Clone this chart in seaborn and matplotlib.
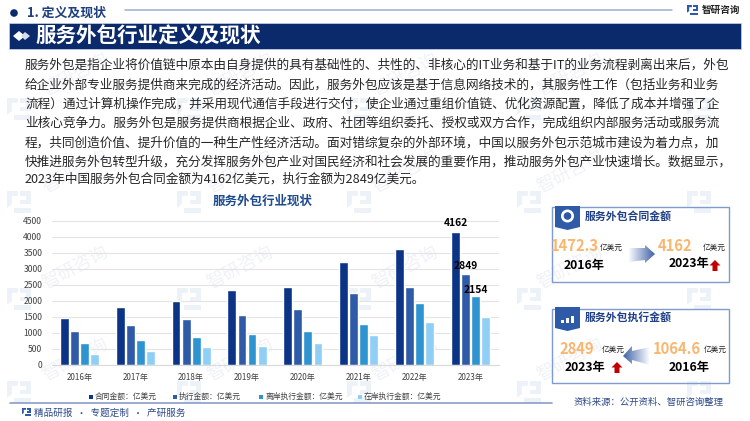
import numpy as np
import pandas as pd
import seaborn as sns
import matplotlib
matplotlib.use("Agg")
import matplotlib.pyplot as plt
from matplotlib.patches import Polygon, Rectangle, Circle

years = ["2016年", "2017年", "2018年", "2019年", "2020年", "2021年", "2022年", "2023年"]
contract = [1458, 1800, 1990, 2354, 2448, 3219, 3615, 4162]
executed = [1052, 1260, 1437, 1562, 1750, 2240, 2448, 2849]
offshore = [687, 781, 875, 968, 1052, 1292, 1948, 2154]
onshore = [354, 437, 562, 594, 687, 937, 1333, 1510]
series_names = ["合同金额：亿美元", "执行金额：亿美元", "离岸执行金额：亿美元", "在岸执行金额：亿美元"]
series_colors = ["#0B3487", "#2F5AA8", "#2E93D1", "#90CFF5"]
y_ticks = [0, 500, 1000, 1500, 2000, 2500, 3000, 3500, 4000, 4500]
body_lines = [
    "服务外包是指企业将价值链中原本由自身提供的具有基础性的、共性的、非核心的IT业务和基于IT的业务流程剥离出来后，外包",
    "给企业外部专业服务提供商来完成的经济活动。因此，服务外包应该是基于信息网络技术的，其服务性工作（包括业务和业务",
    "流程）通过计算机操作完成，并采用现代通信手段进行交付，使企业通过重组价值链、优化资源配置，降低了成本并增强了企",
    "业核心竞争力。服务外包是服务提供商根据企业、政府、社团等组织委托、授权或双方合作，完成组织内部服务活动或服务流",
    "程，共同创造价值、提升价值的一种生产性经济活动。面对错综复杂的外部环境，中国以服务外包示范城市建设为着力点，加",
    "快推进服务外包转型升级，充分发挥服务外包产业对国民经济和社会发展的重要作用，推动服务外包产业快速增长。数据显示，",
    "2023年中国服务外包合同金额为4162亿美元，执行金额为2849亿美元。",
]

sns.set_theme(style="white")
plt.rcParams["font.family"] = ["Noto Sans CJK SC", "DejaVu Sans"]

W, H = 750, 421
fig = plt.figure(figsize=(W / 100, H / 100), dpi=100, facecolor="white")


def pixel_axes(z):
    a = fig.add_axes([0, 0, 1, 1], zorder=z)
    a.set_xlim(0, W)
    a.set_ylim(H, 0)
    a.axis("off")
    a.patch.set_alpha(0)
    return a


back = pixel_axes(0)
over = pixel_axes(2)


def logo(a, x, y, s, color, alpha=1.0):
    a.add_patch(Polygon([[x, y], [x + .45 * s, y], [x + .45 * s, y + .2 * s], [x + .2 * s, y + .2 * s],
                         [x + .2 * s, y + .55 * s], [x, y + .7 * s]], fc=color, ec="none", alpha=alpha))
    a.add_patch(Polygon([[x + .55 * s, y], [x + s, y], [x + s, y + .55 * s], [x + .55 * s, y + .55 * s],
                         [x + .55 * s, y + .38 * s], [x + .8 * s, y + .38 * s], [x + .8 * s, y + .2 * s],
                         [x + .55 * s, y + .2 * s]], fc=color, ec="none", alpha=alpha))
    a.add_patch(Rectangle((x + .28 * s, y + .72 * s), .72 * s, .2 * s, fc=color, ec="none", alpha=alpha))


# faint repeating watermark
for wy in [110, 203, 300, 393]:
    for wx in [17, 187, 357, 527, 697]:
        logo(back, wx - 10, wy - 12, 24, "#EDF2F9")
for wy in [75, 172, 268, 360]:
    for wx in [75, 240, 405, 570]:
        back.text(wx, wy, "智研咨询", rotation=28, fontsize=13,
                  color="#EFF2F7", ha="center", va="center")

# chart
ax = fig.add_axes([52 / W, 1 - 365 / H, 447 / W, 144 / H], zorder=1)
ax.patch.set_alpha(0)
df = pd.DataFrame({"年份": years * 4,
                   "系列": np.repeat(series_names, len(years)),
                   "金额": contract + executed + offshore + onshore})
sns.barplot(data=df, x="年份", y="金额", hue="系列", hue_order=series_names, palette=series_colors,
            saturation=1, width=0.72, gap=0.12, errorbar=None, ax=ax, legend=False)
ax.set_xlim(-0.49, 7.51)
ax.set_ylim(0, 4500)
ax.set_yticks(y_ticks)
ax.set_xlabel("")
ax.set_ylabel("")
ax.grid(axis="y", color="#E4E4E4", linewidth=0.8)
ax.set_axisbelow(True)
for s in ["top", "right", "left"]:
    ax.spines[s].set_visible(False)
ax.spines["bottom"].set_color("#D9D9D9")
ax.spines["bottom"].set_linewidth(0.8)
ax.tick_params(axis="both", length=0, labelsize=6.2, labelcolor="#404040")
ax.tick_params(axis="x", pad=6, labelsize=5.8)
ax.tick_params(axis="y", pad=7)
for container, vals, dy in zip(ax.containers[:3], [contract, executed, offshore], [3, 2, 0.5]):
    labels = [""] * (len(years) - 1) + [str(vals[-1])]
    ax.bar_label(container, labels=labels, fontsize=7.4, fontweight="bold", color="black",
                 padding=dy, clip_on=False)

T = over.text
# header
over.add_patch(Circle((14, 13), 3.8, fc="#0B2A6B", ec="none"))
T(27, 13, "1. 定义及现状", fontsize=9.3, fontweight="bold", color="#1F3F7F", va="center")
over.plot([125, 672], [10, 10], color="#9DADD3", lw=1.1)
logo(over, 687, 5, 11, "#2F5AA8")
T(702, 10, "智研咨询", fontsize=6.9, fontweight="bold", color="#222222", va="center")
over.add_patch(Rectangle((9, 23), 732, 26, fc="#0B2A6B", ec="#C9D3E8", lw=0.5))
over.add_patch(Polygon([[13, 36], [19, 31], [25, 36], [19, 41]], fc="white", ec="none"))
over.add_patch(Polygon([[21, 36], [25, 32], [30, 36], [25, 40]], fc="#D5DCEB", ec="none"))
T(35, 36, "服务外包行业定义及现状", fontsize=14.8, fontweight="bold", color="white", va="center")

# body text
for line, y in zip(body_lines, [65.5, 85, 104.5, 123.5, 143, 162, 179]):
    T(25, y, line, fontsize=9.13, color="#262626", va="center")

T(263, 201, "服务外包行业现状", fontsize=9, fontweight="bold", color="#1E4B8F", ha="center", va="center")

# legend
for mx, name, col in zip([90, 174, 260, 359], series_names, series_colors):
    over.add_patch(Rectangle((mx - 1.5, 394.5), 4, 4, fc=col, ec="none"))
    T(mx + 5, 396.5, name, fontsize=5.6, color="#404040", va="center")

# footer
over.plot([10, 552], [403, 403], color="#8C9CC8", lw=1.2)
logo(over, 22, 408, 9, "#2F5AA8")
T(34, 413, "精品研报  ·  专题定制  ·  产研服务", fontsize=6.9, color="#2F4A8A", va="center")
T(574, 402, "资料来源：公开资料、智研咨询整理", fontsize=6.75, color="#2F4A8A", va="center")


def grad_arrow(pts, extent, left_dark):
    grad = np.linspace(1, 0, 64) if left_dark else np.linspace(0, 1, 64)
    im = over.imshow(np.tile(grad, (2, 1)), extent=extent, cmap=matplotlib.colors.LinearSegmentedColormap.from_list(
        "g", ["#FFFFFF", "#3F62A8"]), aspect="auto", zorder=2, vmin=0, vmax=1)
    patch = Polygon(pts, transform=over.transData, fc="none", ec="none")
    over.add_patch(patch)
    im.set_clip_path(patch)


def red_up(cx, cy):
    over.add_patch(Polygon([[cx, cy - 6], [cx + 5.5, cy - 0.5], [cx + 2.5, cy - 0.5], [cx + 2.5, cy + 5],
                            [cx - 2.5, cy + 5], [cx - 2.5, cy - 0.5], [cx - 5.5, cy - 0.5]], fc="#C00000", ec="none"))


def card(y0, y1, title, badge_top, badge_bottom):
    over.add_patch(Rectangle((552, y0), 176.5, y1 - y0, fc="none", ec="#7F9BD0", lw=1))
    over.add_patch(Polygon([[555, badge_top], [580, badge_top], [580, badge_bottom - 3], [567.5, badge_bottom],
                            [555, badge_bottom - 3]], fc="#2F5AA8", ec="none"))
    T(585, (badge_top + badge_bottom) / 2 - 2, title, fontsize=7.8, fontweight="bold", color="#1F3F86", va="center")


card(207, 282, "服务外包合同金额", 206, 230)
over.add_patch(Circle((567.5, 216), 6.5, fc="white", ec="none"))
over.add_patch(Circle((567.5, 216), 3.8, fc="#2F5AA8", ec="none"))
orange = "#F9B66F"
T(575, 246, "1472.3", fontsize=10.6, fontweight="bold", color=orange, ha="center", va="center")
T(600, 248, "亿美元", fontsize=5.5, color="#222222", va="center")
T(584, 265, "2016年", fontsize=8.8, fontweight="bold", color="black", ha="center", va="center")
grad_arrow([[628, 248], [645, 248], [645, 245], [655, 254], [645, 263], [645, 260], [628, 262]], [628, 655, 263, 245], False)
T(675, 246, "4162", fontsize=10.6, fontweight="bold", color=orange, ha="center", va="center")
T(703, 248, "亿美元", fontsize=5.5, color="#222222", va="center")
T(689, 264, "2023年", fontsize=8.8, fontweight="bold", color="black", ha="center", va="center")
red_up(715, 266)

card(309, 383, "服务外包执行金额", 307, 331)
for bx, bh in zip([561, 566, 571], [3, 5, 7]):
    over.add_patch(Rectangle((bx, 323 - bh), 3, bh, fc="white", ec="none"))
T(576.5, 349, "2849", fontsize=10.6, fontweight="bold", color=orange, ha="center", va="center")
T(602, 350, "亿美元", fontsize=5.5, color="#222222", va="center")
T(585, 368, "2023年", fontsize=8.8, fontweight="bold", color="black", ha="center", va="center")
red_up(617, 368)
grad_arrow([[650, 347], [632, 351], [632, 346], [623, 356], [632, 364], [632, 360], [650, 365]], [623, 650, 365, 346], True)
T(676.5, 349, "1064.6", fontsize=10.6, fontweight="bold", color=orange, ha="center", va="center")
T(704, 350, "亿美元", fontsize=5.5, color="#222222", va="center")
T(689.5, 368, "2016年", fontsize=8.8, fontweight="bold", color="black", ha="center", va="center")

over.set_xlim(0, W)
over.set_ylim(H, 0)
fig.savefig("out.png", dpi=100)
